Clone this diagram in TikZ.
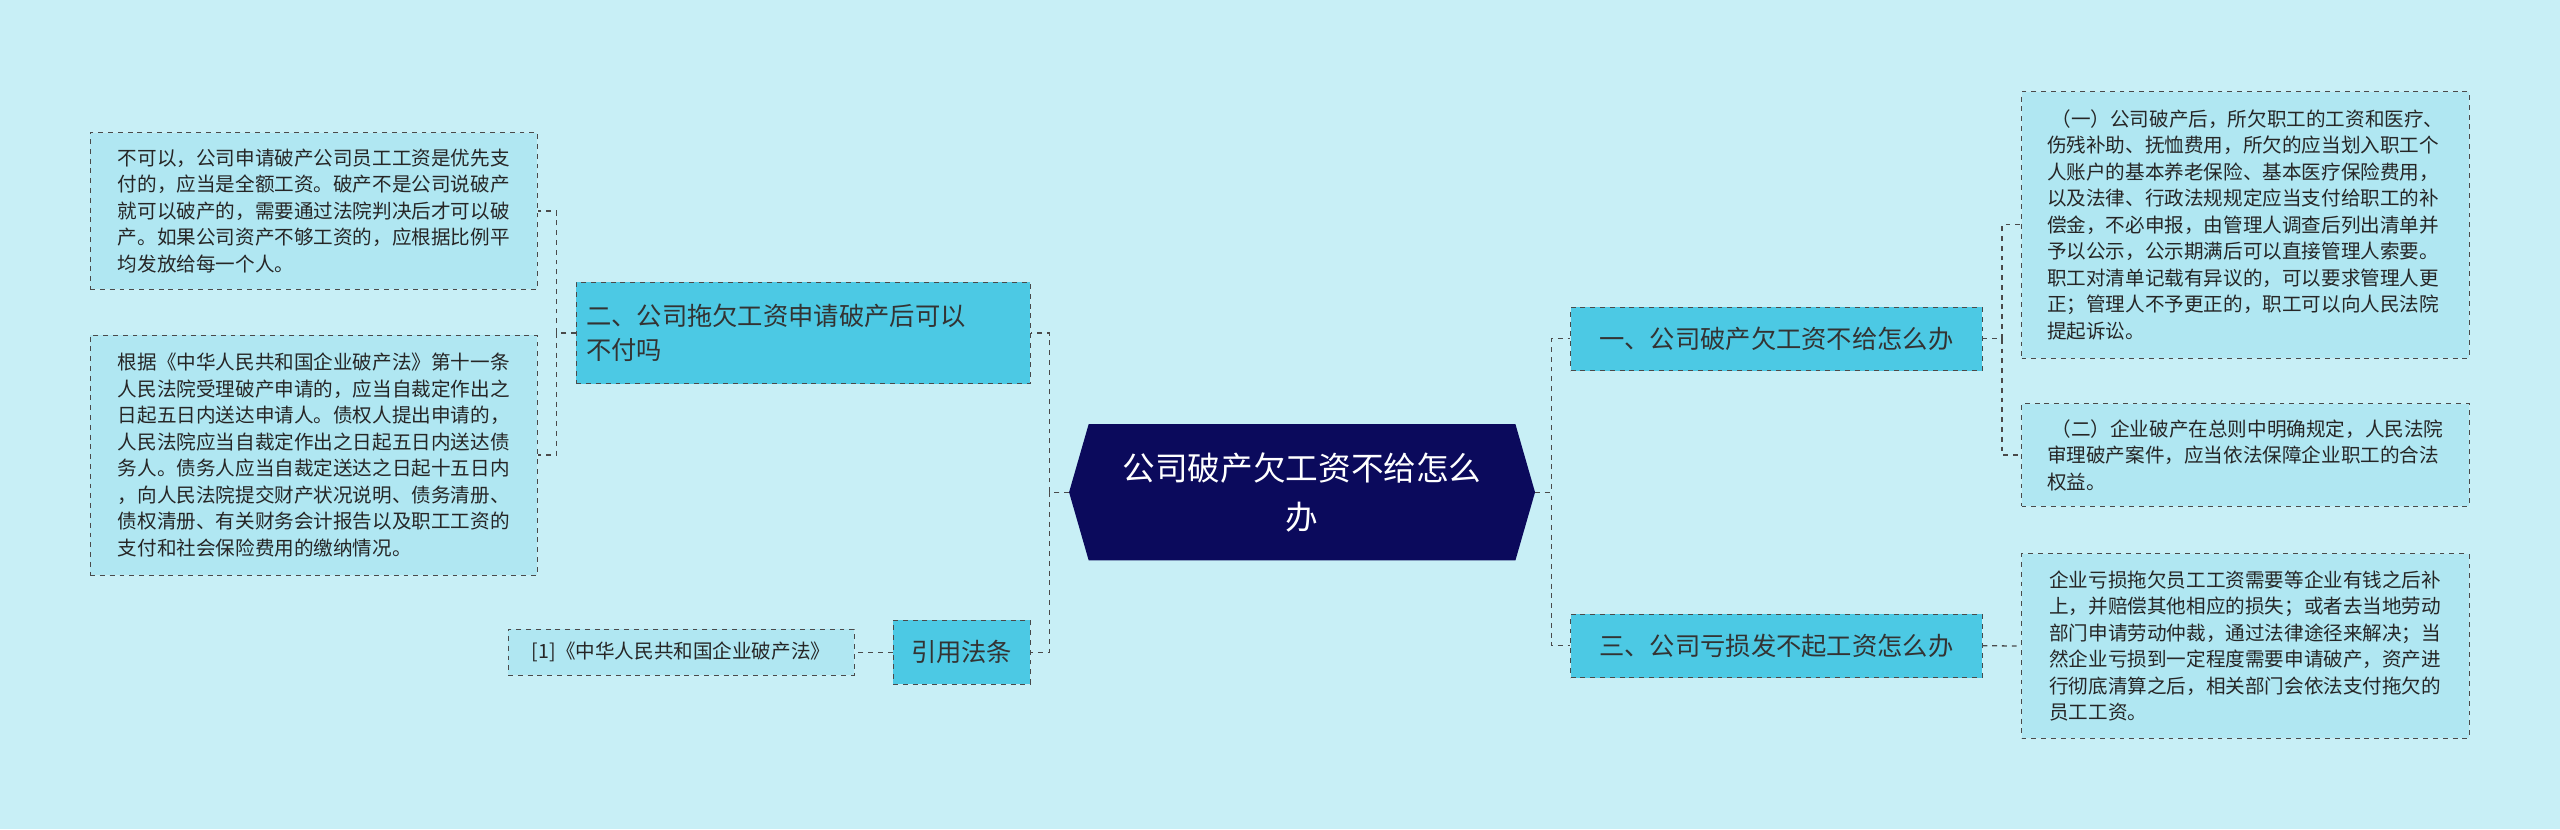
\documentclass[tikz,border=0pt]{standalone}
\usepackage{fontspec}
\setmainfont{Noto Sans CJK SC}
\usetikzlibrary{calc}
\definecolor{bg}{HTML}{C8EFF6}
\definecolor{leaf}{HTML}{B0E7F2}
\definecolor{br}{HTML}{4CC9E4}
\definecolor{navy}{HTML}{0B0A5C}
\definecolor{ln}{HTML}{4A4A4A}
\tikzset{
 leafbox/.style={draw=ln,dashed,fill=leaf,align=left,anchor=north west,inner sep=5pt,font=\fontsize{12}{16.2}\selectfont,text=black!85},
 branch/.style={draw=ln,dashed,fill=br,align=left,inner sep=5pt,font=\fontsize{15.5}{21}\selectfont,text=black!80},
 conn/.style={draw=ln,dashed,thick}
}
\begin{document}
\begin{tikzpicture}[x=1pt,y=-1pt]
\fill[bg] (0,0) rectangle (1568,508);
\useasboundingbox (0,0) rectangle (1568,508);
% center
\node[minimum width=285pt,minimum height=83pt,inner sep=0pt] (c) at (797.5,301.5) {};
\fill[navy] (c.west) -- ($(c.north west)+(12,0)$) -- ($(c.north east)+(-12,0)$) -- (c.east) -- ($(c.south east)+(-12,0)$) -- ($(c.south west)+(12,0)$) -- cycle;
\node[text=white,align=center,font=\fontsize{20}{30}\selectfont] at (c) {公司破产欠工资不给怎么\\办};
% branches
\node[branch,minimum width=252pt,minimum height=39pt] (b1) at (1088,207.5) {一、公司破产欠工资不给怎么办};
\node[branch,minimum width=252pt,minimum height=39pt] (b3) at (1088,395.5) {三、公司亏损发不起工资怎么办};
\node[branch,minimum width=278pt,minimum height=62pt,text width=266pt] (b2) at (492,204) {二、公司拖欠工资申请破产后可以\\不付吗};
\node[branch,minimum width=84pt,minimum height=39pt,align=center] (b4) at (589,399.5) {引用法条};
% leaves
\node[leafbox,minimum width=274pt,minimum height=163pt] (r1) at (1238,56) {\ （一）公司破产后，所欠职工的工资和医疗、\\伤残补助、抚恤费用，所欠的应当划入职工个\\人账户的基本养老保险、基本医疗保险费用，\\以及法律、行政法规规定应当支付给职工的补\\偿金，不必申报，由管理人调查后列出清单并\\予以公示，公示期满后可以直接管理人索要。\\职工对清单记载有异议的，可以要求管理人更\\正；管理人不予更正的，职工可以向人民法院\\提起诉讼。};
\node[leafbox,minimum width=274pt,minimum height=63pt] (r2) at (1238,247) {\ （二）企业破产在总则中明确规定，人民法院\\审理破产案件，应当依法保障企业职工的合法\\权益。};
\node[leafbox,minimum width=274pt,minimum height=113pt] (r3) at (1238,339) {企业亏损拖欠员工工资需要等企业有钱之后补\\上，并赔偿其他相应的损失；或者去当地劳动\\部门申请劳动仲裁，通过法律途径来解决；当\\然企业亏损到一定程度需要申请破产，资产进\\行彻底清算之后，相关部门会依法支付拖欠的\\员工工资。};
\node[leafbox,minimum width=274pt,minimum height=96pt] (l1) at (55,81) {不可以，公司申请破产公司员工工资是优先支\\付的，应当是全额工资。破产不是公司说破产\\就可以破产的，需要通过法院判决后才可以破\\产。如果公司资产不够工资的，应根据比例平\\均发放给每一个人。};
\node[leafbox,minimum width=274pt,minimum height=147pt] (l2) at (55,205) {根据《中华人民共和国企业破产法》第十一条\\人民法院受理破产申请的，应当自裁定作出之\\日起五日内送达申请人。债权人提出申请的，\\人民法院应当自裁定作出之日起五日内送达债\\务人。债务人应当自裁定送达之日起十五日内\\，向人民法院提交财产状况说明、债务清册、\\债权清册、有关财务会计报告以及职工工资的\\支付和社会保险费用的缴纳情况。};
\node[leafbox,minimum width=212pt,minimum height=28pt,anchor=west] (ref) at (311,399.5) {[1]《中华人民共和国企业破产法》};
% connectors
\draw[conn] (c.east) -- ++(10,0) |- (b1.west);
\draw[conn] (c.east) -- ++(10,0) |- (b3.west);
\draw[conn] (c.west) -- ++(-12,0) |- (b2.east);
\draw[conn] (c.west) -- ++(-12,0) |- (b4.east);
\draw[conn] (b1.east) -- ++(12,0) |- (r1.west);
\draw[conn] (b1.east) -- ++(12,0) |- (r2.west);
\draw[conn] (b3.east) -- (r3.west);
\draw[conn] (b2.west) -- ++(-12,0) |- (l1.east);
\draw[conn] (b2.west) -- ++(-12,0) |- (l2.east);
\draw[conn] (b4.west) -- (ref.east);
\end{tikzpicture}
\end{document}
